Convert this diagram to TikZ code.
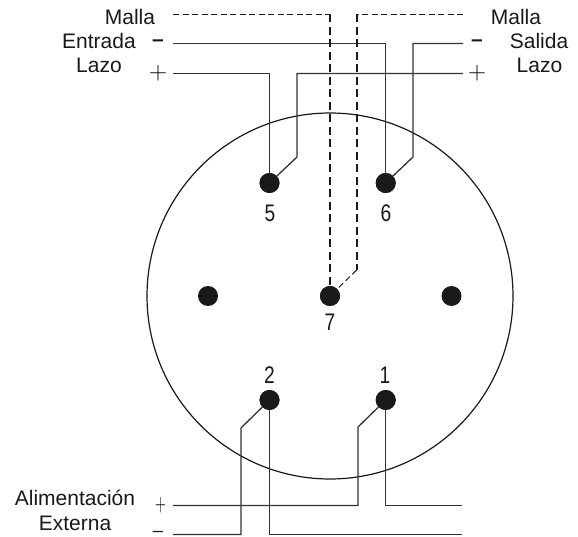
\documentclass[tikz,border=0pt]{standalone}
\usepackage{fontspec}
\setmainfont{Liberation Sans}
\newfontfamily\signfont{Latin Modern Roman}
\begin{document}
\begin{tikzpicture}[x=1pt,y=-1pt,
  wire/.style={line width=1.3pt,draw=black!80},
  ring/.style={line width=1.2pt,draw=black!90},
  shieldh/.style={line width=1pt,draw=black!90,dash pattern=on 6pt off 3.5pt},
  shieldv/.style={line width=1.6pt,draw=black!90,dash pattern=on 8pt off 4.5pt},
  shieldd/.style={line width=1pt,draw=black!90,dash pattern=on 6pt off 3.5pt},
  pin/.style={circle,fill=black!90,draw=none,minimum size=20pt,inner sep=0pt},
  lab/.style={font=\fontsize{21}{24}\selectfont,text=black!90,inner sep=0pt,anchor=base},
  num/.style={font=\fontsize{24}{26}\selectfont,text=black!90,inner sep=0pt},
  sign/.style={font=\signfont\fontsize{25}{27}\selectfont,text=black,inner sep=0pt},
  dashsign/.style={font=\bfseries\fontsize{21}{24}\selectfont,text=black!90,inner sep=0pt}]
\useasboundingbox (0,0) rectangle (578,537);
\draw[ring] (330,296) circle[radius=183];

% pins
\node[pin] (p5) at (269.5,183) {};
\node[pin] (p6) at (385.7,183) {};
\node[pin] (pl) at (208,296) {};
\node[pin] (p7) at (330,296) {};
\node[pin] (pr) at (451.5,296) {};
\node[pin] (p2) at (269.5,400) {};
\node[pin] (p1) at (385.7,400) {};

% free ends
\coordinate (mallaL) at (173,14.5);
\coordinate (mallaR) at (463,14.5);
\coordinate (entL) at (173,43.5);
\coordinate (salR) at (463,43.5);
\coordinate (lazoL) at (173,73.5);
\coordinate (lazoR) at (463,73.5);
\coordinate (aliA) at (173,505.5);
\coordinate (aliAr) at (462,505.5);
\coordinate (aliB) at (173,534.5);
\coordinate (aliBr) at (462,534.5);

% wires
\draw[wire] (lazoL) -| (p5.center);
\draw[wire] (lazoR) -- (297,73.5) -- (297,157) -- (p5);
\draw[wire] (entL) -| (p6.center);
\draw[wire] (salR) -- (413,43.5) -- (413,157) -- (p6);
\draw[wire] (aliA) -- (358,505.5) -- (358,427) -- (p1);
\draw[wire] (aliAr) -| (p1.center);
\draw[wire] (aliB) -- (241,534.5) -- (241,428) -- (p2);
\draw[wire] (aliBr) -| (p2.center);

% shield
\draw[shieldh] (mallaL) -- (330,14.5);
\draw[shieldv] (330,14.5) -- (p7.north);
\draw[shieldh] (mallaR) -- (356.7,14.5);
\draw[shieldv] (356.7,14.5) -- (356.7,270);
\draw[shieldd] (356.7,270) -- (p7);

% pins above wires
\fill[black!90] (p5) circle[radius=10] (p6) circle[radius=10] (p7) circle[radius=10] (p2) circle[radius=10] (p1) circle[radius=10];

% labels
\node[lab] (t1) at (130,25) {Malla};
\node[lab] (t2) at (99,49) {Entrada};
\node[lab] (t3) at (99,73) {Lazo};
\node[lab] (t4) at (516,25) {Malla};
\node[lab] (t5) at (539,49) {Salida};
\node[lab] (t6) at (539.5,73) {Lazo};
\node[lab] (t7) at (75,505) {Alimentación};
\node[lab] (t8) at (75,530) {Externa};

\node[num] (n5) at (270,213) {\scalebox{.8}[1]{5}};
\node[num] (n6) at (386,213) {\scalebox{.8}[1]{6}};
\node[num] (n7) at (330,322) {\scalebox{.8}[1]{7}};
\node[num] (n2) at (269.5,375) {\scalebox{.8}[1]{2}};
\node[num] (n1) at (385,375) {\scalebox{.8}[1]{1}};

\node[sign] (s1) at (158,73.5) {+};
\node[dashsign] (s2) at (158,43.5) {–};
\node[sign] (s3) at (477,73.5) {+};
\node[dashsign] (s4) at (477,43.5) {–};
\node[sign] (s5) at (160.5,505.5) {\scalebox{.6}[1]{+}};
\node[dashsign,font=\bfseries\fontsize{13}{14}\selectfont] (s6) at (158,533) {\scalebox{1.6}[1]{–}};
\end{tikzpicture}
\end{document}
